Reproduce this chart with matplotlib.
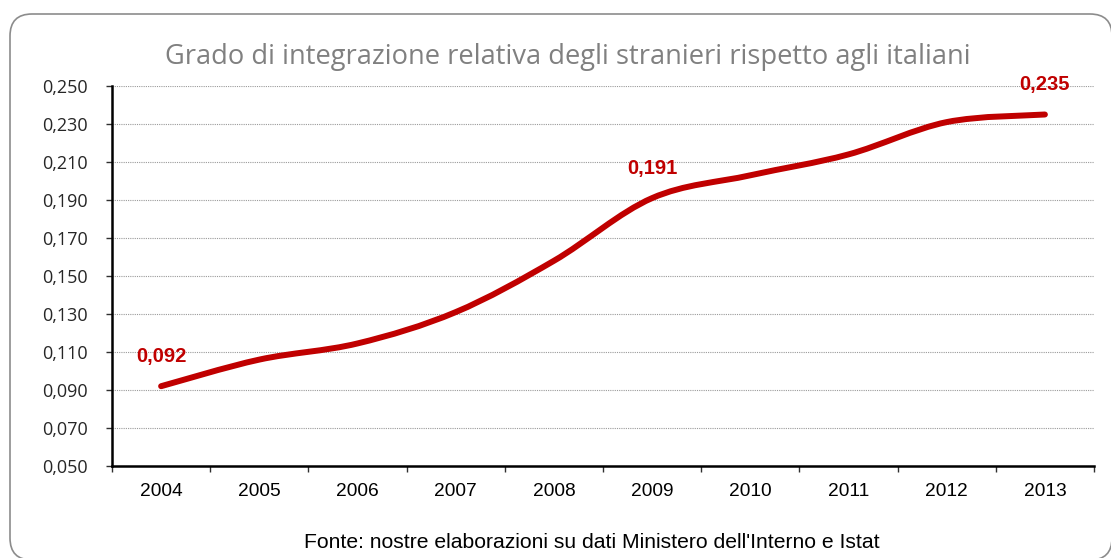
import matplotlib.pyplot as plt
import numpy as np
from matplotlib.path import Path
from matplotlib.patches import PathPatch, FancyBboxPatch
from matplotlib.transforms import IdentityTransform
from matplotlib.ticker import FuncFormatter


years = ['2004', '2005', '2006', '2007', '2008', '2009', '2010', '2011', '2012', '2013']
grado = [0.092, 0.106, 0.1145, 0.131, 0.158, 0.191, 0.203, 0.214, 0.231, 0.235]
# which points carry a value label
labelled = ['2004', '2009', '2013']

red = '#C00000'

fig = plt.figure(figsize=(11.11, 5.58), dpi=100)

# rounded frame around the whole chart (pixel coords)
frame = FancyBboxPatch((10, -2), 1102, 546,
                       boxstyle='round,pad=0,rounding_size=22',
                       transform=IdentityTransform(), facecolor='none',
                       edgecolor='#8c8c8c', linewidth=1.2, zorder=-1)
fig.patches.append(frame)

ax = fig.add_axes([112 / 1111, 1 - 466 / 558, (1094 - 112) / 1111, (466 - 86) / 558])
ax.set_facecolor('none')

x = np.arange(len(years))
y = np.array(grado)

# smoothed line, built as cubic bezier segments through the points
verts = [(x[0], y[0])]
codes = [Path.MOVETO]
px = np.concatenate([[x[0]], x, [x[-1]]])
py = np.concatenate([[y[0]], y, [y[-1]]])
for i in range(len(x) - 1):
    p0 = np.array([px[i], py[i]])
    p1 = np.array([px[i + 1], py[i + 1]])
    p2 = np.array([px[i + 2], py[i + 2]])
    p3 = np.array([px[i + 3], py[i + 3]])
    c1 = p1 + (p2 - p0) / 6
    c2 = p2 - (p3 - p1) / 6
    verts += [tuple(c1), tuple(c2), tuple(p2)]
    codes += [Path.CURVE4] * 3
ax.add_patch(PathPatch(Path(verts, codes), facecolor='none', edgecolor=red,
                       linewidth=4.3, capstyle='round', zorder=3))

for yr, v in zip(years, grado):
    if yr in labelled:
        i = years.index(yr)
        ax.annotate(f'{v:.3f}'.replace('.', ','), (i, v), xytext=(0, 21.5),
                    textcoords='offset points', ha='center', va='center',
                    color=red, fontsize=14.5, fontweight='bold',
                    family='Liberation Sans')

ax.set_xlim(-0.5, len(years) - 0.5)
ax.set_ylim(0.050, 0.250)
ax.set_yticks(np.arange(0.050, 0.2501, 0.020))
ax.yaxis.set_major_formatter(FuncFormatter(lambda v, p: f'{v:.3f}'.replace('.', ',')))
ax.yaxis.grid(True, linestyle=(0, (1, 1)), color='#9a9a9a', linewidth=0.8)
ax.set_axisbelow(True)

# tick marks on category boundaries, labels at centres
ax.set_xticks(np.arange(-0.5, len(years), 1.0))
ax.set_xticklabels([])
ax.set_xticks(x, minor=True)
ax.set_xticklabels(years, minor=True, fontsize=13.8, family='Liberation Sans')
ax.tick_params(axis='x', which='major', length=4.5, width=1, direction='out', color='#303030')
ax.tick_params(axis='x', which='minor', length=0, pad=12)
ax.tick_params(axis='y', length=4.5, width=1, direction='out', color='#303030',
               labelsize=13, pad=13)
for lab in ax.get_yticklabels():
    lab.set_family('Open Sans')
    lab.set_color('#262626')

for s in ['top', 'right']:
    ax.spines[s].set_visible(False)
ax.spines['left'].set_linewidth(1.8)
ax.spines['bottom'].set_linewidth(1.8)

fig.text(0.511, 1 - 57 / 558, 'Grado di integrazione relativa degli stranieri rispetto agli italiani',
         ha='center', va='center', fontsize=19.6, color='#808080', family='Open Sans')
fig.text(592 / 1111, 1 - 543 / 558, "Fonte: nostre elaborazioni su dati Ministero dell'Interno e Istat",
         ha='center', va='center', fontsize=15.2, color='black', family='Liberation Sans')

fig.savefig('out.png', dpi=100)
